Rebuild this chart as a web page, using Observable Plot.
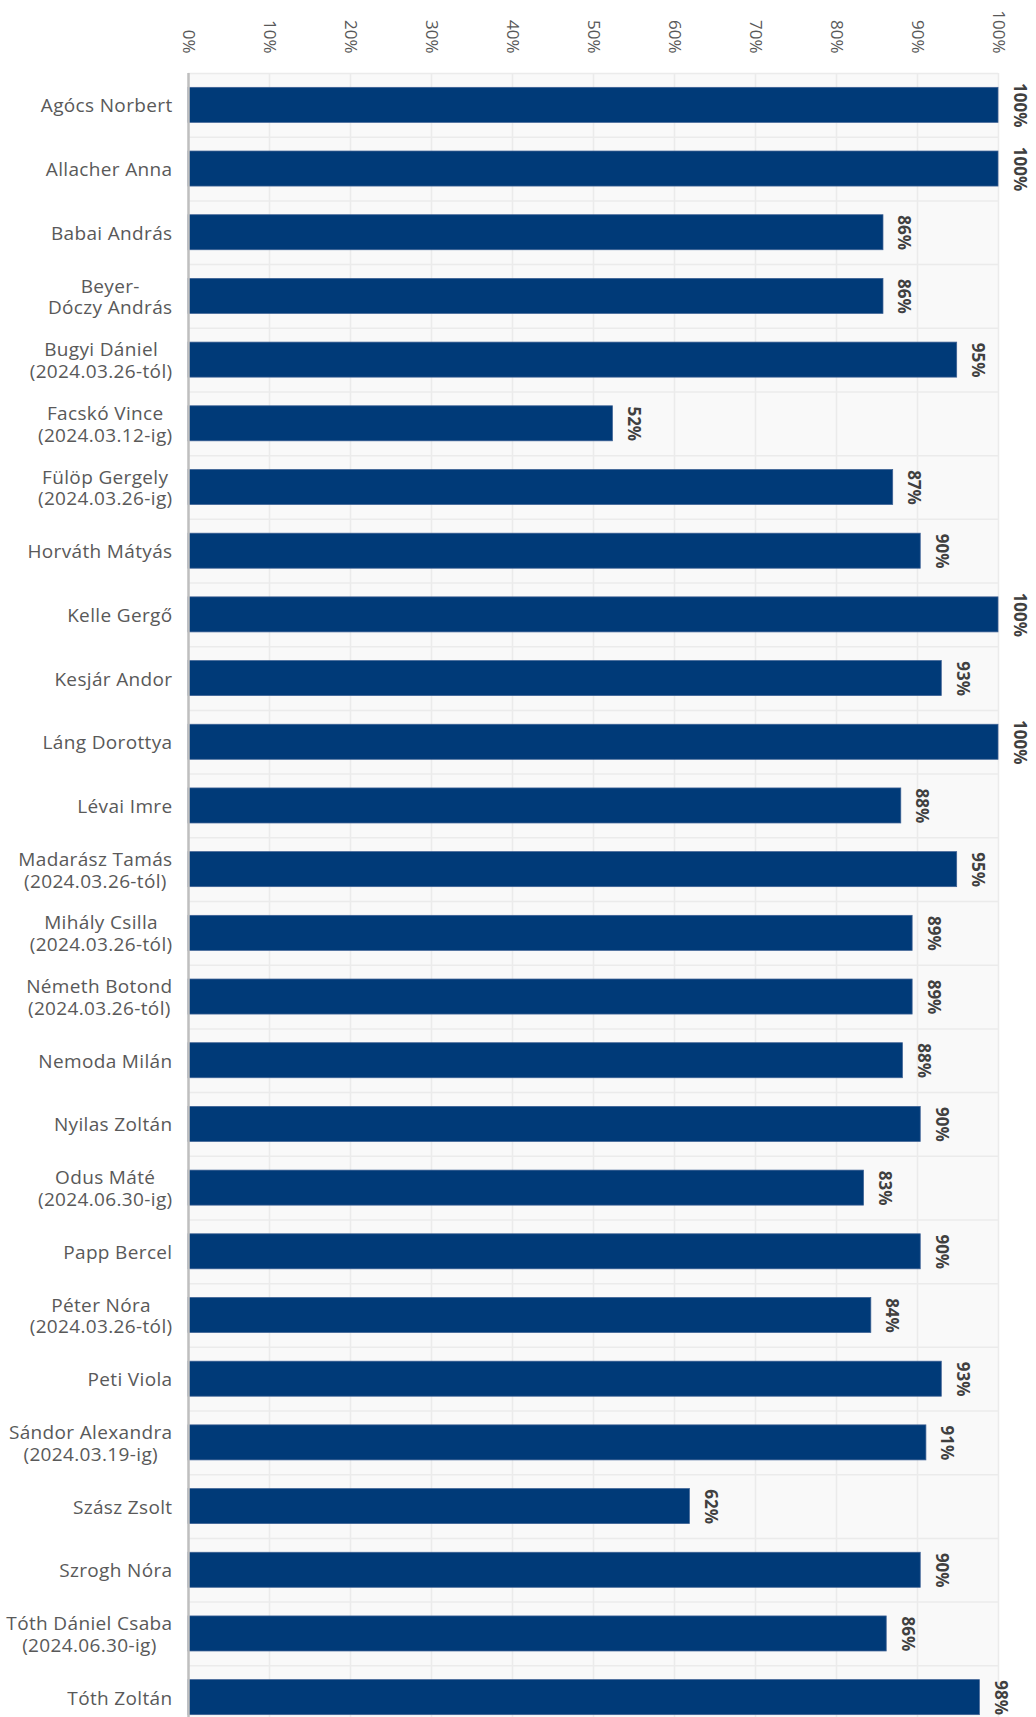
<!DOCTYPE html>
<html>
<head>
<meta charset="utf-8">
<script src="https://cdn.jsdelivr.net/npm/d3@7"></script>
<script src="https://cdn.jsdelivr.net/npm/@observablehq/plot@0.6"></script>
<style>
  html, body { margin: 0; padding: 0; background: #fff; }
  #wrap { width: 1036px; height: 1717px; overflow: hidden; }
  #wrap g[aria-label="y-axis tick label"] text { letter-spacing: 0.35px; }
</style>
</head>
<body>
<div id="wrap"></div>
<script>
const names = [
  "Agócs Norbert",
  "Allacher Anna",
  "Babai András",
  "Beyer-\nDóczy András",
  "Bugyi Dániel\n(2024.03.26-tól)",
  "Facskó Vince\n(2024.03.12-ig)",
  "Fülöp Gergely\n(2024.03.26-ig)",
  "Horváth Mátyás",
  "Kelle Gergő",
  "Kesjár Andor",
  "Láng Dorottya",
  "Lévai Imre",
  "Madarász Tamás\n(2024.03.26-tól)",
  "Mihály Csilla\n(2024.03.26-tól)",
  "Németh Botond\n(2024.03.26-tól)",
  "Nemoda Milán",
  "Nyilas Zoltán",
  "Odus Máté\n(2024.06.30-ig)",
  "Papp Bercel",
  "Péter Nóra\n(2024.03.26-tól)",
  "Peti Viola",
  "Sándor Alexandra\n(2024.03.19-ig)",
  "Szász Zsolt",
  "Szrogh Nóra",
  "Tóth Dániel Csaba\n(2024.06.30-ig)",
  "Tóth Zoltán"
];
const values = [
  100, 100, 85.8, 85.8, 94.9, 52.4, 87.0, 90.4, 100, 93.0, 100, 88.0, 94.9,
  89.4, 89.4, 88.2, 90.4, 83.4, 90.4, 84.3, 93.0, 91.1, 61.9, 90.4, 86.2, 97.7
];
const xTicks = [0, 10, 20, 30, 40, 50, 60, 70, 80, 90, 100];

const data = names.map((n, i) => ({name: n, value: values[i] / 100}));

const marginTop = 73;
const step = 63.68;
const height = Math.round(marginTop + step * names.length);

const chart = Plot.plot({
  width: 1036,
  height,
  marginTop,
  marginBottom: 0,
  marginLeft: 188,
  marginRight: 38,
  style: {fontFamily: "'Open Sans', sans-serif", background: "#fff"},
  x: {domain: [0, 1]},
  y: {domain: names, paddingInner: 0.45, paddingOuter: 0.225, round: false},
  marks: [
    Plot.frame({fill: "#f9f9f9", stroke: null}),
    Plot.gridX(xTicks.map(t => t / 100), {stroke: "#ebebeb", strokeOpacity: 1, strokeWidth: 1.5}),
    Plot.ruleY(names, {y: d => d, dy: -step / 2, stroke: "#ebebeb", strokeWidth: 1.5}),
    Plot.barX(data, {x: "value", y: "name", fill: "#003a78", stroke: "#3d6194", strokeWidth: 0.75}),
    Plot.ruleX([0], {stroke: "#bfbfbf", strokeWidth: 2.5}),
    Plot.text(data, {
      x: "value", y: "name",
      text: d => Math.round(d.value * 100) + "%",
      rotate: 90, textAnchor: "middle", lineAnchor: "bottom",
      dx: 15, fontWeight: "bold", fontSize: 17, fill: "#404040"
    }),
    Plot.axisX({
      anchor: "top", ticks: xTicks.map(t => t / 100), tickFormat: d3.format(".0%"),
      tickRotate: 90, tickSize: 0, tickPadding: 20, textAnchor: "end", lineAnchor: "middle",
      fontSize: 17, fill: "#595959", label: null
    }),
    Plot.axisY({
      tickSize: 0, tickPadding: 16, fontSize: 19, fill: "#595959", lineHeight: 1.15, label: null
    })
  ]
});

document.getElementById("wrap").appendChild(chart);

// center the lines of multi-line y tick labels within their block (right-aligned block)
function centerLines() {
  chart.querySelectorAll('g[aria-label="y-axis tick label"] text').forEach(t => {
    const spans = t.querySelectorAll("tspan");
    if (spans.length < 2) return;
    const widths = Array.from(spans, s => s.getComputedTextLength());
    const w = Math.max(...widths);
    t.setAttribute("text-anchor", "middle");
    spans.forEach(s => s.setAttribute("x", -w / 2));
  });
}
if (document.fonts && document.fonts.ready) document.fonts.ready.then(centerLines); else centerLines();
</script>
</body>
</html>
